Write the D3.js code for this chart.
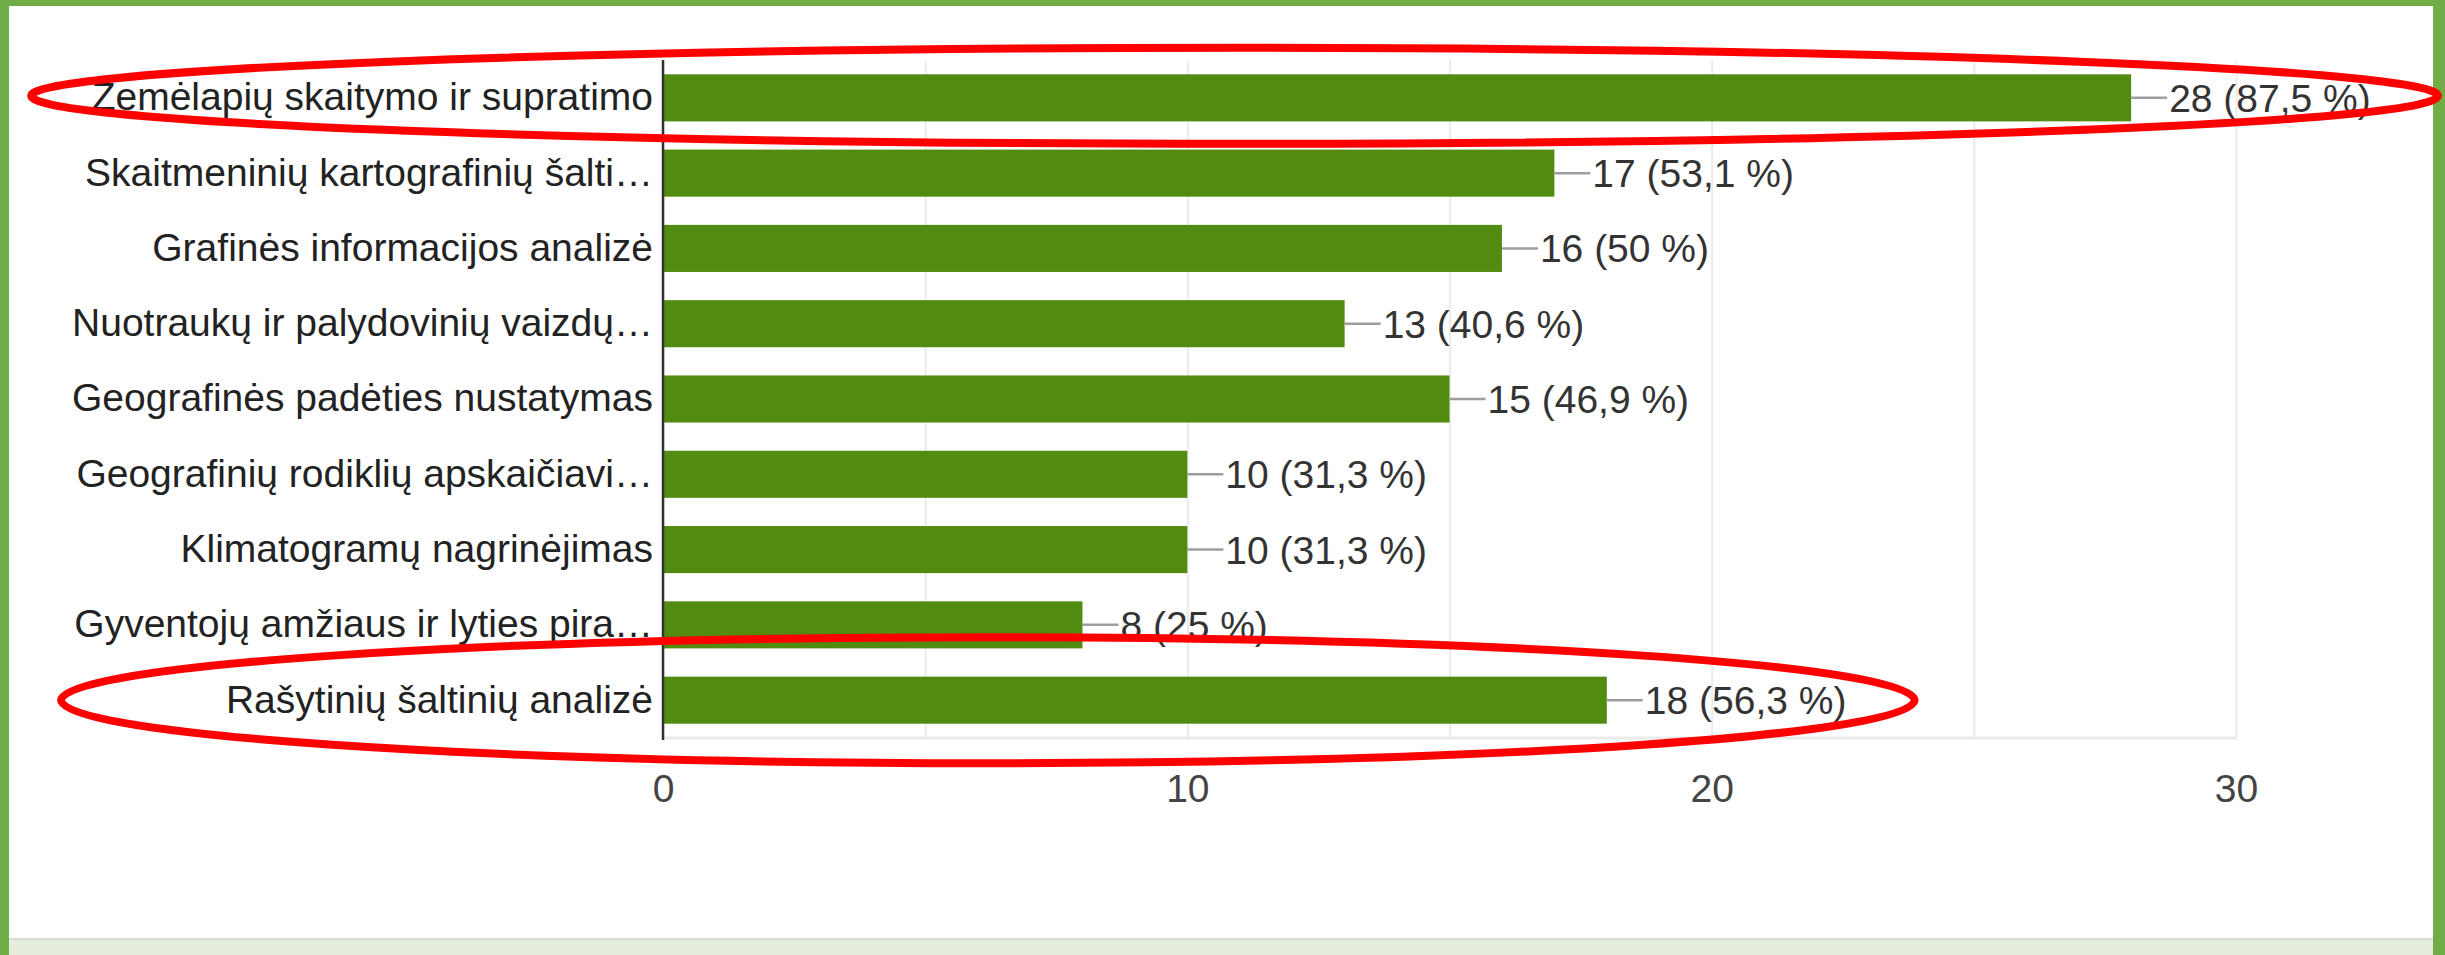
<!DOCTYPE html>
<html>
<head>
<meta charset="utf-8">
<script src="https://cdn.jsdelivr.net/npm/d3@7"></script>
<style>
  html, body { margin: 0; padding: 0; background: #fff; }
  svg { display: block; }
  text { font-family: Arial, "Liberation Sans", sans-serif; }
</style>
</head>
<body>
<div id="chart"></div>
<script>
const categories = [
  "Žemėlapių skaitymo ir supratimo",
  "Skaitmeninių kartografinių šalti…",
  "Grafinės informacijos analizė",
  "Nuotraukų ir palydovinių vaizdų…",
  "Geografinės padėties nustatymas",
  "Geografinių rodiklių apskaičiavi…",
  "Klimatogramų nagrinėjimas",
  "Gyventojų amžiaus ir lyties pira…",
  "Rašytinių šaltinių analizė"
]
const counts = [28, 17, 16, 13, 15, 10, 10, 8, 18]
const percents = ["87,5 %", "53,1 %", "50 %", "40,6 %", "46,9 %", "31,3 %", "31,3 %", "25 %", "56,3 %"]
const tickLabels = [0, 10, 20, 30]
const gridValues = [0, 5, 10, 15, 20, 25, 30]
// rows circled in red on the screenshot
const circled = [
  { row: "Žemėlapių skaitymo ir supratimo", from: -12.05, to: 33.85 },
  { row: "Rašytinių šaltinių analizė", from: -11.48, to: 23.87 }
]

const W = 2445, H = 955
const MARGIN = { LEFT: 663, RIGHT: 209, TOP: 60, BOTTOM: 217 }
const WIDTH = W - MARGIN.LEFT - MARGIN.RIGHT
const HEIGHT = H - MARGIN.TOP - MARGIN.BOTTOM
const FRAME = "#70ad47"

const svg = d3.select("#chart").append("svg")
  .attr("width", W)
  .attr("height", H)

// frame + bottom strip
svg.append("rect").attr("x", 0).attr("y", 0).attr("width", W).attr("height", H).attr("fill", FRAME)
svg.append("rect").attr("x", 9).attr("y", 6).attr("width", W - 9 - 12).attr("height", H - 6).attr("fill", "#fff")
svg.append("rect").attr("x", 9).attr("y", 940).attr("width", W - 9 - 12).attr("height", 15).attr("fill", "#e4eddb")
svg.append("line").attr("x1", 9).attr("x2", W - 12).attr("y1", 939).attr("y2", 939)
  .attr("stroke", "#d8dcd6").attr("stroke-width", 2)

const g = svg.append("g").attr("transform", `translate(${MARGIN.LEFT}, ${MARGIN.TOP})`)

const x = d3.scaleLinear().domain([0, 30]).range([0, WIDTH])
const y = d3.scaleBand().domain(categories).range([0, HEIGHT])
  .paddingInner(0.375).paddingOuter(0.19)

// gridlines
const grid = g.append("g").attr("class", "grid")
  .attr("transform", `translate(0, ${HEIGHT})`)
  .call(d3.axisBottom(x).tickValues(gridValues).tickSize(-HEIGHT).tickFormat(""))
grid.select(".domain").remove()
grid.selectAll("line").attr("stroke", "#ebebeb").attr("stroke-width", 2)
g.append("line").attr("x1", 0).attr("x2", WIDTH).attr("y1", HEIGHT).attr("y2", HEIGHT)
  .attr("stroke", "#ebebeb").attr("stroke-width", 3)

// x tick labels
const xAxis = g.append("g").attr("class", "x axis")
  .attr("transform", `translate(0, ${HEIGHT})`)
  .call(d3.axisBottom(x).tickValues(tickLabels).tickSize(0).tickPadding(36))
xAxis.select(".domain").remove()
xAxis.selectAll("text").attr("font-size", "39px").attr("fill", "#444")
  .style("font-family", "Arial, 'Liberation Sans', sans-serif")

// bars
g.selectAll(".bar").data(categories).enter().append("rect")
  .attr("class", "bar")
  .attr("x", 0)
  .attr("y", d => y(d))
  .attr("width", (d, i) => x(counts[i]))
  .attr("height", y.bandwidth())
  .attr("fill", "#518c10")

// leader lines + value labels
g.selectAll(".leader").data(categories).enter().append("line")
  .attr("class", "leader")
  .attr("x1", (d, i) => x(counts[i]))
  .attr("x2", (d, i) => x(counts[i]) + 36)
  .attr("y1", d => y(d) + y.bandwidth() / 2)
  .attr("y2", d => y(d) + y.bandwidth() / 2)
  .attr("stroke", "#9e9e9e").attr("stroke-width", 2.5)

g.selectAll(".value").data(categories).enter().append("text")
  .attr("class", "value")
  .attr("x", (d, i) => x(counts[i]) + 38)
  .attr("y", d => y(d) + y.bandwidth() / 2)
  .attr("dy", "0.36em")
  .attr("font-size", "39px")
  .attr("fill", "#333")
  .text((d, i) => `${counts[i]} (${percents[i]})`)

// category axis
const yAxis = g.append("g").attr("class", "y axis")
  .call(d3.axisLeft(y).tickSize(0).tickPadding(10))
yAxis.select(".domain").remove()
yAxis.selectAll("text").attr("font-size", "39px").attr("fill", "#222")
  .style("font-family", "Arial, 'Liberation Sans', sans-serif")
g.append("line").attr("x1", 0).attr("x2", 0).attr("y1", 0).attr("y2", HEIGHT + 2)
  .attr("stroke", "#333").attr("stroke-width", 2.5)

// red annotation ellipses
g.selectAll(".circled").data(circled).enter().append("ellipse")
  .attr("class", "circled")
  .attr("cx", d => (x(d.from) + x(d.to)) / 2)
  .attr("cy", d => y(d.row) + y.bandwidth() / 2 - (d.row === categories[0] ? 2 : 0))
  .attr("rx", d => (x(d.to) - x(d.from)) / 2)
  .attr("ry", d => d.row === categories[0] ? 48 : 63)
  .attr("fill", "none")
  .attr("stroke", "#ff0000")
  .attr("stroke-width", 8)
</script>
</body>
</html>
